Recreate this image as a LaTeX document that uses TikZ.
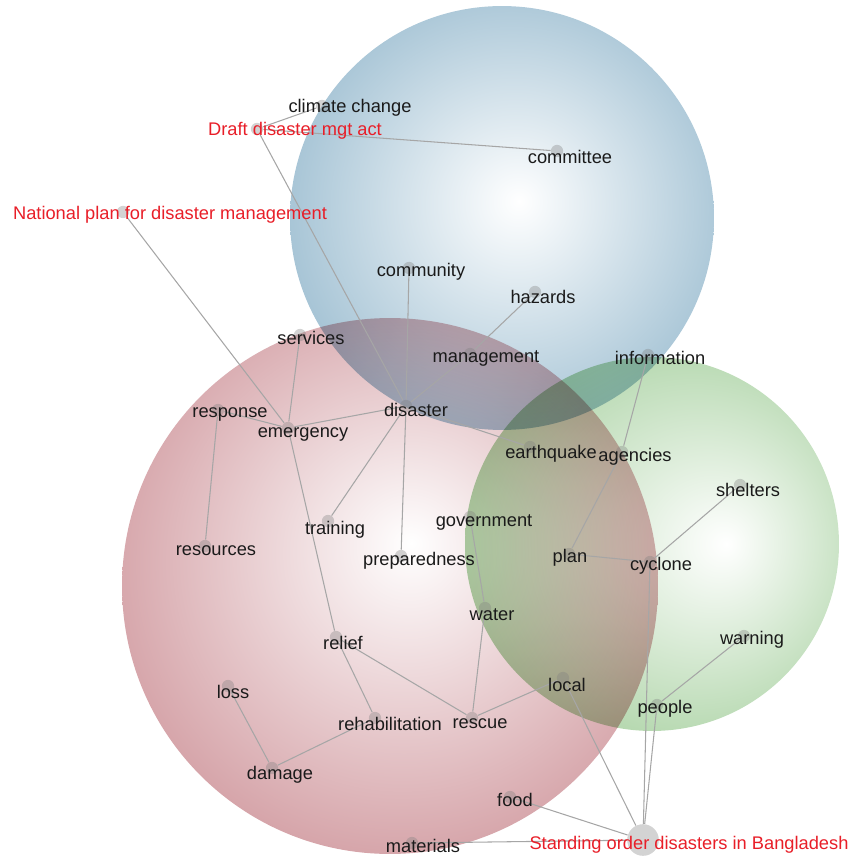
\documentclass[tikz,border=0pt]{standalone}
\usepackage{fontspec}
\setmainfont{Liberation Sans}
\usepackage{tikz}
\usepackage{color}

\definecolor{bluerim}{RGB}{112,160,188}
\definecolor{redrim}{RGB}{190,112,120}
\definecolor{greenrim}{RGB}{136,192,126}
\definecolor{docred}{RGB}{232,30,40}
\definecolor{wordgray}{RGB}{26,26,26}
\pgfdeclareradialshading{blueball}{\pgfpoint{2bp}{2bp}}{color(0bp)=(white); color(30bp)=(bluerim!70!white); color(50bp)=(bluerim)}
\pgfdeclareradialshading{redball}{\pgfpoint{2bp}{4bp}}{color(0bp)=(white); color(30bp)=(redrim!70!white); color(50bp)=(redrim)}
\pgfdeclareradialshading{greenball}{\pgfpoint{10bp}{0bp}}{color(0bp)=(white); color(30bp)=(greenrim!70!white); color(50bp)=(greenrim)}

\begin{document}
\begin{tikzpicture}[x=0.02cm,y=-0.02cm,
  dot/.style={circle,fill=gray,fill opacity=0.35,inner sep=0pt,minimum size=7pt},
  bigdot/.style={dot,minimum size=18pt},
  word/.style={text=wordgray,font=\fontsize{10.4}{12}\selectfont,inner sep=0pt},
  doc/.style={word,text=docred},
  link/.style={draw=gray!70,line width=0.6pt}]
\useasboundingbox (0,0) rectangle (850,857);
%% clusters
\begin{scope}[blend mode=multiply]
\shade[shading=blueball] (502,218) circle [radius=4.24cm];
\shade[shading=redball] (390,586) circle [radius=5.36cm];
\shade[shading=greenball] (652,544) circle [radius=3.74cm];
\end{scope}
%% terms
\node[dot] (climate) at (322,106) {};
\node[dot] (draft) at (257,129) {};
\node[dot] (committee) at (557,151) {};
\node[dot] (national) at (123,212) {};
\node[dot] (community) at (409,268) {};
\node[dot] (hazards) at (535,292) {};
\node[dot] (services) at (300,335) {};
\node[dot] (management) at (470,354) {};
\node[dot] (information) at (648,355) {};
\node[dot] (response) at (218,410) {};
\node[dot] (disaster) at (406,406) {};
\node[dot] (emergency) at (288,428) {};
\node[dot] (earthquake) at (530,447) {};
\node[dot] (agencies) at (622,452) {};
\node[dot] (shelters) at (740,485) {};
\node[dot] (government) at (470,517) {};
\node[dot] (training) at (328,521) {};
\node[dot] (resources) at (205,546) {};
\node[dot] (preparedness) at (401,556) {};
\node[dot] (plan) at (569,554) {};
\node[dot] (cyclone) at (650,562) {};
\node[dot] (water) at (485,608) {};
\node[dot] (relief) at (336,637) {};
\node[dot] (warning) at (744,636) {};
\node[dot] (loss) at (228,686) {};
\node[dot] (local) at (563,678) {};
\node[dot] (people) at (657,705) {};
\node[dot] (rehabilitation) at (375,718) {};
\node[dot] (rescue) at (472,718) {};
\node[dot] (damage) at (272,768) {};
\node[dot] (food) at (510,797) {};
\node[dot] (materials) at (412,843) {};
\node[bigdot] (standing) at (643,840) {};
%% co-occurrence links
\draw[link] (draft) -- (climate);
\draw[link] (draft) -- (committee);
\draw[link] (draft) -- (disaster);
\draw[link] (national) -- (emergency);
\draw[link] (community) -- (disaster);
\draw[link] (hazards) -- (management);
\draw[link] (management) -- (disaster);
\draw[link] (services) -- (emergency);
\draw[link] (response) -- (emergency);
\draw[link] (response) -- (resources);
\draw[link] (emergency) -- (disaster);
\draw[link] (emergency) -- (relief);
\draw[link] (disaster) -- (training);
\draw[link] (disaster) -- (preparedness);
\draw[link] (disaster) -- (earthquake);
\draw[link] (information) -- (agencies);
\draw[link] (agencies) -- (plan);
\draw[link] (plan) -- (cyclone);
\draw[link] (cyclone) -- (shelters);
\draw[link] (government) -- (water);
\draw[link] (water) -- (rescue);
\draw[link] (relief) -- (rehabilitation);
\draw[link] (relief) -- (rescue);
\draw[link] (rehabilitation) -- (damage);
\draw[link] (loss) -- (damage);
\draw[link] (rescue) -- (local);
\draw[link] (local) -- (standing);
\draw[link] (cyclone) -- (standing);
\draw[link] (people) -- (standing);
\draw[link] (warning) -- (people);
\draw[link] (food) -- (standing);
\draw[link] (materials) -- (standing);
%% labels
\node[word] (climate-t) at (350,108) {climate change};
\node[doc] (draft-t) at (295,131) {Draft disaster mgt act};
\node[word] (committee-t) at (570,157) {committee};
\node[doc] (national-t) at (170,215) {National plan for disaster management};
\node[word] (community-t) at (421,272) {community};
\node[word] (hazards-t) at (543,297) {hazards};
\node[word] (services-t) at (311,338) {services};
\node[word] (management-t) at (486,358) {management};
\node[word] (information-t) at (660,358) {information};
\node[word] (response-t) at (230,414) {response};
\node[word] (disaster-t) at (416,410) {disaster};
\node[word] (emergency-t) at (303,434) {emergency};
\node[word] (earthquake-t) at (551,454) {earthquake};
\node[word] (agencies-t) at (635,457) {agencies};
\node[word] (shelters-t) at (748,490) {shelters};
\node[word] (government-t) at (484,522) {government};
\node[word] (training-t) at (335,530) {training};
\node[word] (resources-t) at (216,551) {resources};
\node[word] (preparedness-t) at (419,561) {preparedness};
\node[word] (plan-t) at (570,558) {plan};
\node[word] (cyclone-t) at (661,566) {cyclone};
\node[word] (water-t) at (492,615) {water};
\node[word] (relief-t) at (343,643) {relief};
\node[word] (warning-t) at (752,640) {warning};
\node[word] (loss-t) at (233,692) {loss};
\node[word] (local-t) at (567,685) {local};
\node[word] (people-t) at (665,709) {people};
\node[word] (rehabilitation-t) at (390,724) {rehabilitation};
\node[word] (rescue-t) at (480,724) {rescue};
\node[word] (damage-t) at (280,775) {damage};
\node[word] (food-t) at (515,800) {food};
\node[word] (materials-t) at (423,846) {materials};
\node[doc] (standing-t) at (689,845) {Standing order disasters in Bangladesh};
\end{tikzpicture}
\end{document}
